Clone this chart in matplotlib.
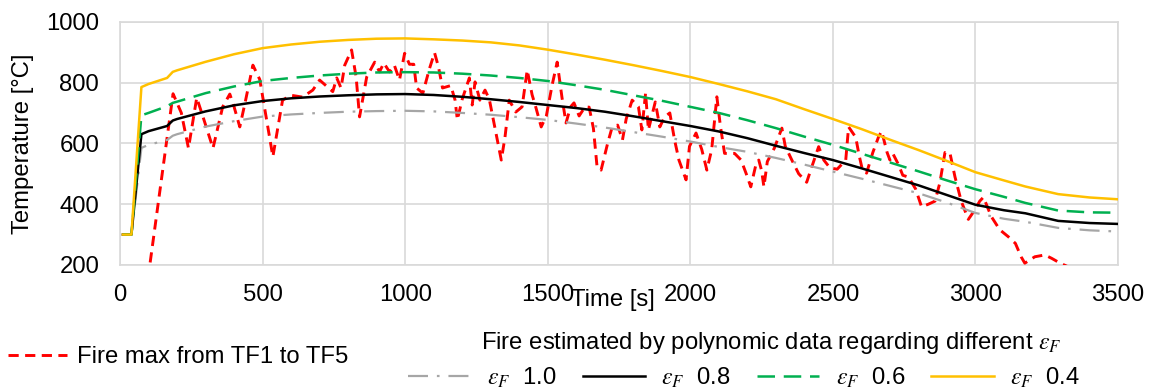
import matplotlib
matplotlib.use('Agg')
import matplotlib.pyplot as plt
from matplotlib.lines import Line2D

plt.rcParams['font.family'] = ['Liberation Sans', 'DejaVu Sans']
plt.rcParams['mathtext.fontset'] = 'stix'

# ---------------- data ----------------
time_poly = [10, 40, 75, 100, 165, 185, 200, 300, 400, 500, 600, 700, 800, 900,
             1000, 1100, 1200, 1300, 1400, 1500, 1600, 1700, 1800, 1900, 2000,
             2100, 2200, 2300, 2400, 2500, 2600, 2700, 2800, 2900, 3000, 3100,
             3175, 3290, 3400, 3500]

temp_eps_10 = [300, 300, 585, 595, 611, 625, 630, 655, 673, 688, 695, 700, 704, 706,
               707, 705, 700, 694, 686, 677, 665, 652, 637, 622, 606,
               588, 572, 552, 530, 507, 484, 460, 436, 405, 371, 352,
               342, 322, 314, 310]

temp_eps_08 = [300, 300, 630, 640, 657, 675, 680, 705, 725, 739, 748, 754, 758, 761,
               762, 759, 753, 745, 736, 726, 716, 704, 689, 673, 657,
               639, 617, 592, 568, 545, 518, 490, 462, 430, 398, 380,
               370, 345, 338, 335]

temp_eps_06 = [300, 300, 692, 700, 722, 733, 737, 765, 787, 805, 815, 823, 829, 833,
               834, 833, 829, 823, 815, 805, 791, 776, 758, 740, 720,
               700, 676, 650, 622, 595, 566, 537, 508, 478, 449, 424,
               404, 379, 373, 372]

temp_eps_04 = [300, 300, 785, 795, 815, 835, 840, 868, 893, 913, 925, 934, 940, 944,
               945, 942, 938, 932, 922, 908, 892, 875, 857, 838, 818,
               795, 771, 745, 712, 680, 647, 612, 578, 542, 505, 478,
               458, 433, 422, 416]

time_fire = [90, 186, 215, 240, 269, 290, 326, 360, 385, 400, 420, 440, 466, 490,
             536, 570, 600, 640, 676, 700, 746, 760, 775, 788, 812, 828, 840, 865,
             893, 910, 925, 945, 962, 980, 998, 1015, 1030, 1040, 1062, 1085, 1103,
             1117, 1131, 1160, 1175, 1183, 1200, 1225, 1235, 1245, 1262, 1280, 1295,
             1315, 1337, 1350, 1365, 1388, 1410, 1428, 1445, 1458, 1477, 1495, 1515,
             1533, 1550, 1564, 1580, 1592, 1610, 1630, 1645, 1660, 1673, 1687, 1710,
             1726, 1745, 1762, 1775, 1796, 1818, 1830, 1843, 1853, 1877, 1893, 1910,
             1928, 1945, 1960, 1985, 1997, 2020, 2040, 2058, 2075, 2093, 2105, 2120,
             2155, 2178, 2196, 2212, 2230, 2240, 2250, 2258, 2270, 2295, 2321, 2333,
             2356, 2380, 2408, 2425, 2450, 2468, 2490, 2515, 2545, 2555, 2580, 2592,
             2603, 2618, 2640, 2660, 2671, 2690, 2700, 2711, 2730, 2745, 2765, 2790,
             2811, 2835, 2858, 2875, 2893, 2910, 2928, 2950, 2975, 2997, 3015, 3028,
             3055, 3085, 3115, 3140, 3160, 3173, 3208, 3243, 3267, 3297, 3325]

temp_fire = [100, 763, 700, 584, 750, 690, 584, 720, 762, 720, 654, 740, 857, 810,
             556, 742, 758, 752, 775, 808, 770, 815, 782, 857, 907, 818, 687, 818,
             867, 835, 864, 835, 857, 808, 896, 860, 860, 782, 765, 845, 898,
             850, 782, 790, 742, 677, 745, 815, 726, 802, 742, 775, 745,
             650, 545, 620, 742, 703, 720, 841, 760, 719, 654, 690, 790,
             867, 750, 667, 720, 733, 690, 719, 719, 650, 522, 512, 600,
             654, 660, 611, 680, 742, 720, 644, 765, 644, 736, 654, 687,
             700, 610, 545, 480, 590, 634, 580, 512, 580, 753, 660, 567,
             567, 545, 500, 457, 530, 545, 510, 457, 540, 585, 650, 590,
             545, 500, 472, 520, 589, 545, 519, 515, 545, 654, 620, 560,
             515, 502, 570, 621, 640, 570, 545, 565, 530, 495, 489, 450,
             391, 400, 410, 470, 570, 570, 490, 410, 350, 380, 410, 423,
             360, 316, 293, 271, 227, 206, 227, 233, 222, 206, 194]

x_ticks = [0, 500, 1000, 1500, 2000, 2500, 3000, 3500]
y_ticks = [200, 400, 600, 800, 1000]

label_fire = 'Fire max from TF1 to TF5'
labels_eps = [r'$\varepsilon_F$  1.0', r'$\varepsilon_F$  0.8',
              r'$\varepsilon_F$  0.6', r'$\varepsilon_F$  0.4']
legend_title = r'Fire estimated by polynomic data regarding different $\varepsilon_F$'

# ---------------- figure ----------------
FS = 17.2
fig = plt.figure(figsize=(11.53, 3.92), dpi=100)
ax = fig.add_axes([0.1041, 0.324, 0.8656, 0.6207])

c_gray, c_black, c_green, c_yellow, c_red = '#A6A6A6', '#000000', '#00B050', '#FFC000', '#FF0000'

l_red, = ax.plot(time_fire, temp_fire, color=c_red, lw=2.1, dashes=(3.5, 2.2),
                 label=label_fire, zorder=3)
l_gray, = ax.plot(time_poly, temp_eps_10, color=c_gray, lw=1.6, dashes=(9, 4, 1.2, 4),
                  label=labels_eps[0], zorder=4)
l_black, = ax.plot(time_poly, temp_eps_08, color=c_black, lw=1.8,
                   label=labels_eps[1], zorder=4)
l_green, = ax.plot(time_poly, temp_eps_06, color=c_green, lw=1.8, dashes=(7, 3.5),
                   label=labels_eps[2], zorder=4)
l_yellow, = ax.plot(time_poly, temp_eps_04, color=c_yellow, lw=1.8,
                    label=labels_eps[3], zorder=4)

ax.set_xlim(0, 3500)
ax.set_ylim(200, 1000)
ax.set_xticks(x_ticks)
ax.set_yticks(y_ticks)
ax.grid(True, color='#D9D9D9', lw=1.2)
ax.set_axisbelow(True)
for s in ax.spines.values():
    s.set_color('#D9D9D9')
    s.set_linewidth(1.2)
ax.tick_params(axis='both', length=0, labelsize=FS, colors='#000000')
ax.tick_params(axis='y', pad=15)
ax.tick_params(axis='x', pad=14)

ax.set_ylabel('Temperature [°C]', fontsize=FS)
ax.yaxis.set_label_coords(-0.086, 0.5)
fig.text(613 / 1153, 1 - 300 / 392, 'Time [s]', fontsize=FS, ha='center', va='center')

# legends
leg1 = fig.legend(handles=[l_red], labels=[label_fire], loc='center left',
                  bbox_to_anchor=(8 / 1153, 1 - 357 / 392), frameon=False,
                  fontsize=FS, handlelength=2.45, handletextpad=0.42,
                  borderpad=0, borderaxespad=0)
fig.text(481 / 1153, 1 - 343 / 392, legend_title, fontsize=FS, ha='left', va='center')
leg2 = fig.legend(handles=[l_gray, l_black, l_green, l_yellow], labels=labels_eps,
                  loc='center left', ncol=4,
                  bbox_to_anchor=(408 / 1153, 1 - 378 / 392), frameon=False,
                  fontsize=FS, handlelength=2.6, handletextpad=0.7,
                  columnspacing=1.1, borderpad=0, borderaxespad=0)

fig.savefig('out.png', dpi=100)
